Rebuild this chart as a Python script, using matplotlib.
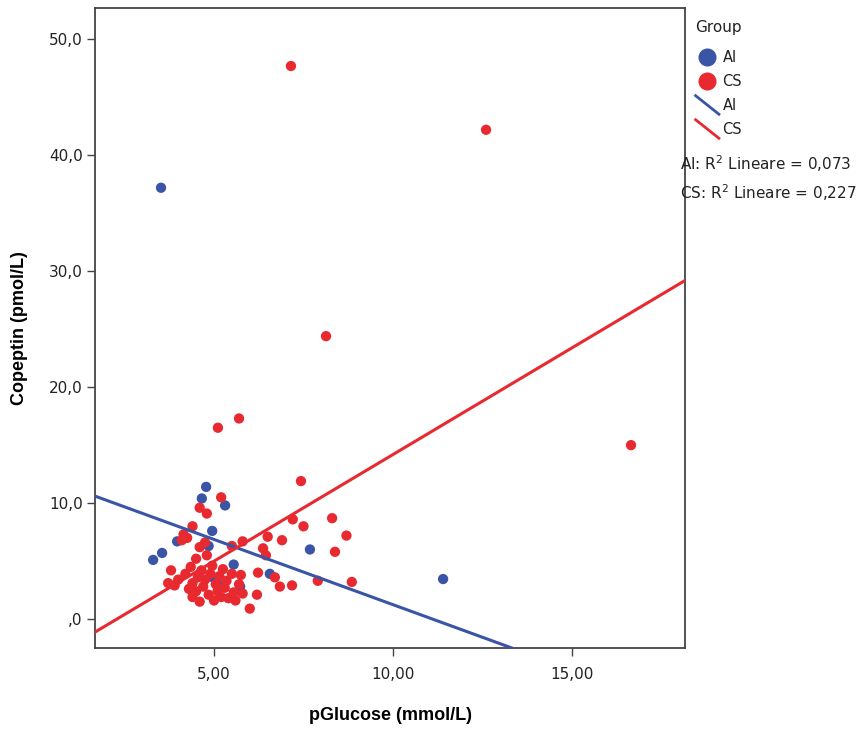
import numpy as np
import matplotlib
matplotlib.use("Agg")
import matplotlib.pyplot as plt
from matplotlib.lines import Line2D
from matplotlib.legend_handler import HandlerLine2D
from matplotlib.ticker import FuncFormatter

# data
ai_glucose = [3.52, 11.4, 7.68, 4.78, 4.66, 5.31, 4.95, 3.97, 3.55, 3.30,
              5.55, 5.08, 5.73, 6.56, 4.97, 4.85]
ai_copeptin = [37.2, 3.45, 6.0, 11.4, 10.4, 9.8, 7.6, 6.7, 5.7, 5.1,
               4.7, 3.1, 2.8, 3.9, 3.6, 6.3]

cs_glucose = [7.15, 12.6, 8.13, 16.65, 5.70, 5.11, 7.43,
              5.20, 4.60, 4.80, 4.40, 4.15, 4.10, 4.75, 5.80, 6.50, 6.90,
              7.20, 7.50, 8.30, 8.70, 8.38, 7.18, 7.90, 8.85,
              6.37, 6.45, 6.23, 6.20, 6.00, 6.84, 6.70, 5.50,
              3.72, 3.80, 3.90, 4.00, 4.20, 4.30, 4.35, 4.40, 4.40, 4.50,
              4.50, 4.55, 4.60, 4.65, 4.70, 4.75, 4.80, 4.85, 4.90, 4.95,
              5.00, 5.05, 5.10, 5.15, 5.20, 5.25, 5.30, 5.35, 5.40, 5.50,
              5.55, 5.60, 5.70, 5.75, 5.80, 4.25, 4.60]
cs_copeptin = [47.7, 42.2, 24.4, 15.0, 17.3, 16.5, 11.9,
               10.5, 9.6, 9.1, 8.0, 7.3, 6.8, 6.6, 6.7, 7.1, 6.8,
               8.6, 8.0, 8.7, 7.2, 5.8, 2.9, 3.3, 3.2,
               6.1, 5.5, 4.0, 2.1, 0.9, 2.8, 3.6, 6.3,
               3.1, 4.2, 2.9, 3.4, 3.9, 2.6, 4.5, 3.1, 1.9, 2.4,
               5.2, 3.6, 1.5, 4.2, 2.8, 3.4, 5.5, 2.1, 3.9, 4.6,
               1.6, 3.0, 2.4, 3.7, 1.9, 4.3, 2.7, 3.3, 1.8, 3.9,
               2.3, 1.6, 3.0, 3.8, 2.2, 7.0, 6.2]

# fit lines (intercept, slope) as shown
ai_fit = (12.49, -1.125)
cs_fit = (-4.21, 1.84)
ai_r2 = "0,073"
cs_r2 = "0,227"

blue = "#3a54a6"
red = "#e8292f"

fig = plt.figure(figsize=(8.65, 7.31), dpi=100)
ax = fig.add_axes([0.110, 0.1135, 0.682, 0.8755])

ax.scatter(ai_glucose, ai_copeptin, s=55, color=blue, edgecolors="none", zorder=3)
ax.scatter(cs_glucose, cs_copeptin, s=55, color=red, edgecolors="none", zorder=3)

xlim = (1.68, 18.16)
ylim = (-2.5, 52.7)
xs = np.array(xlim)
ax.plot(xs, ai_fit[0] + ai_fit[1] * xs, color=blue, lw=2.2, zorder=4)
ax.plot(xs, cs_fit[0] + cs_fit[1] * xs, color=red, lw=2.2, zorder=4)
ax.set_xlim(*xlim)
ax.set_ylim(*ylim)

ax.set_xticks([5, 10, 15])
ax.set_yticks([0, 10, 20, 30, 40, 50])
ax.xaxis.set_major_formatter(FuncFormatter(lambda v, p: f"{v:.2f}".replace(".", ",")))
ax.yaxis.set_major_formatter(FuncFormatter(
    lambda v, p: ",0" if v == 0 else f"{v:.1f}".replace(".", ",")))
ax.tick_params(direction="out", length=6, width=1, color="#444444",
               labelsize=11, labelcolor="#222222", pad=3)
ax.tick_params(axis="x", pad=8)
for sp in ax.spines.values():
    sp.set_color("#444444")
    sp.set_linewidth(1.3)

ax.set_xlabel("pGlucose (mmol/L)", fontsize=13, fontweight="bold",
              family="Liberation Sans", labelpad=18)
ax.set_ylabel("Copeptin (pmol/L)", fontsize=13, fontweight="bold",
              family="Liberation Sans", labelpad=15)


class DiagHandler(HandlerLine2D):
    def create_artists(self, legend, orig_handle, xdescent, ydescent,
                       width, height, fontsize, trans):
        line = Line2D([0, width], [height + 3, -3],
                      color=orig_handle.get_color(), lw=2)
        line.set_transform(trans)
        return [line]


handles = [
    Line2D([], [], ls="none", marker="o", ms=13, color=blue, mec="none"),
    Line2D([], [], ls="none", marker="o", ms=13, color=red, mec="none"),
    Line2D([], [], color=blue, lw=2),
    Line2D([], [], color=red, lw=2),
]
lines_handles = handles[2:]
leg = fig.legend(handles, ["AI", "CS", "AI", "CS"], title="Group",
                 loc="upper left", bbox_to_anchor=(0.789, 0.991),
                 frameon=False, fontsize=10.5, title_fontsize=11,
                 handlelength=1.6, handletextpad=0.25, labelspacing=0.62,
                 handler_map={h: DiagHandler() for h in lines_handles})
leg._legend_box.align = "left"
leg._legend_box.sep = 11
leg.get_title().set_color("#222222")
for t in leg.get_texts():
    t.set_color("#222222")

fig.text(0.786, 0.768, "AI: R$^2$ Lineare = " + ai_r2, fontsize=11, color="#222222")
fig.text(0.786, 0.728, "CS: R$^2$ Lineare = " + cs_r2, fontsize=11, color="#222222")

fig.savefig("out.png", dpi=100)
